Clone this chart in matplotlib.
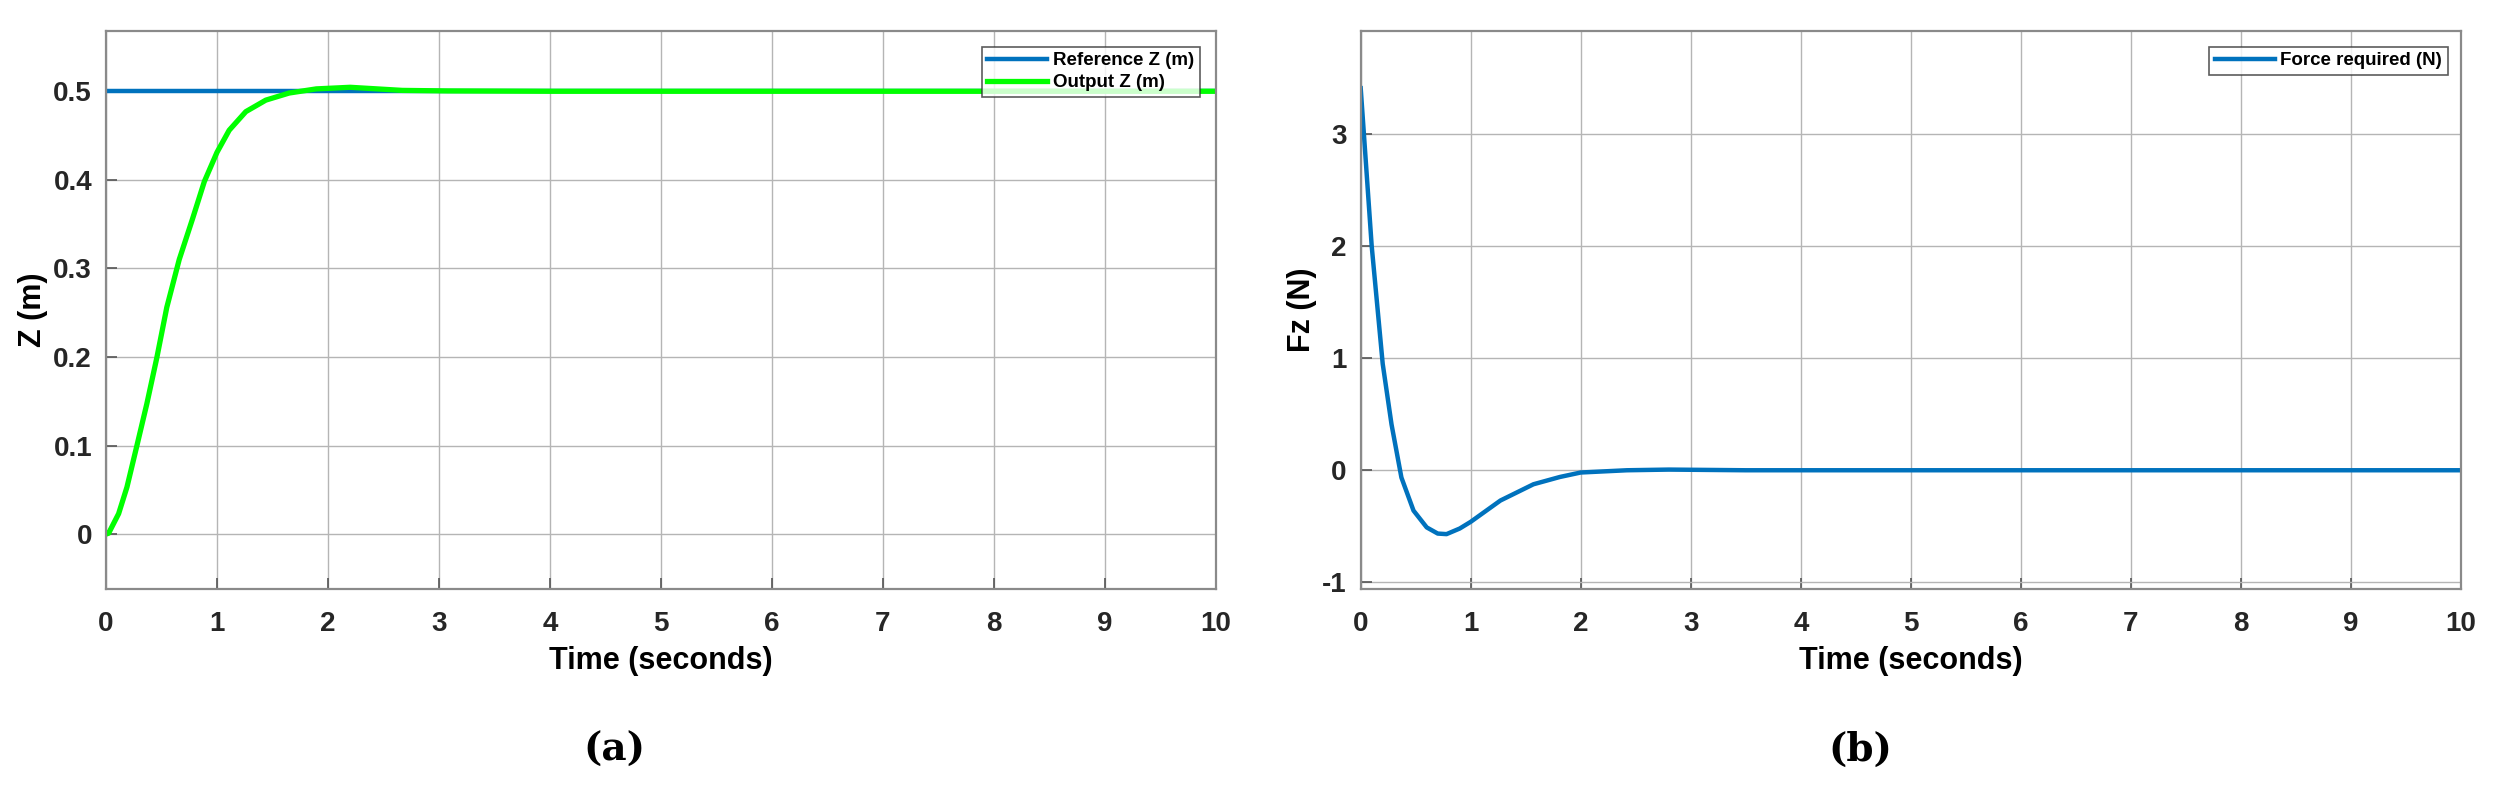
import matplotlib.pyplot as plt

# panel (a): altitude response
t_ref = [0, 10]
z_ref = [0.5, 0.5]
t_out = [0, 0.024, 0.114, 0.189, 0.279, 0.368, 0.458, 0.548, 0.66, 0.78, 0.886, 1.0,
         1.11, 1.26, 1.44, 1.65, 1.895, 2.2, 2.67, 3.08, 4, 10]
z_out = [0, 0.001, 0.023, 0.053, 0.1, 0.147, 0.199, 0.256, 0.31, 0.356, 0.398, 0.431,
         0.456, 0.477, 0.49, 0.498, 0.5027, 0.5045, 0.501, 0.5004, 0.5, 0.5]

# panel (b): force
t_f = [0, 0.1, 0.2, 0.28, 0.37, 0.48, 0.6, 0.7, 0.78, 0.9, 1.0, 1.27, 1.57, 1.81,
       2.0, 2.42, 2.8, 3.5, 10]
f_z = [3.41, 2.0, 0.95, 0.41, -0.065, -0.36, -0.51, -0.565, -0.57, -0.52, -0.46,
       -0.27, -0.125, -0.06, -0.02, 0.0, 0.006, 0.0, 0.0]

xticks = list(range(0, 11))

plt.rcParams['font.family'] = ['Liberation Sans', 'DejaVu Sans']
plt.rcParams['axes.unicode_minus'] = False

fig = plt.figure(figsize=(24.99, 7.9), dpi=100)
ax1 = fig.add_axes([0.0424, 0.2544, 0.4442, 0.7063])
ax2 = fig.add_axes([0.5445, 0.2544, 0.4403, 0.7063])


def style(ax, ylabel):
    ax.set_xlim(0, 10)
    ax.set_xticks(xticks)
    ax.grid(True, color='#b5b5b5', linewidth=1.0)
    ax.set_axisbelow(True)
    for s in ax.spines.values():
        s.set_color('#8a8a8a')
        s.set_linewidth(1.6)
    ax.tick_params(direction='in', length=8, width=1.2, color='#555555',
                   labelsize=20, labelcolor='#262626', pad=10)
    ax.tick_params(axis='x', pad=16)
    for lab in ax.get_xticklabels() + ax.get_yticklabels():
        lab.set_fontweight('bold')
    ax.set_xlabel('Time (seconds)', fontsize=22, fontweight='bold', labelpad=6)
    ax.set_ylabel(ylabel, fontsize=22, fontweight='bold', labelpad=4)


ax1.plot(t_ref, z_ref, color='#0072BD', linewidth=3.2, label='Reference Z (m)')
ax1.plot(t_out, z_out, color='#00FF00', linewidth=3.8, label='Output Z (m)')
ax1.set_ylim(-0.062, 0.568)
ax1.set_yticks([0, 0.1, 0.2, 0.3, 0.4, 0.5])
ax1.set_yticklabels(['0', '0.1', '0.2', '0.3', '0.4', '0.5'])
style(ax1, 'Z (m)')
leg1 = ax1.legend(loc='upper right', bbox_to_anchor=(0.9854, 0.972),
                  prop={'weight': 'bold', 'size': 13.5}, frameon=True, fancybox=False,
                  edgecolor='#333333', handlelength=3.2, borderpad=0.3,
                  labelspacing=0.25, handletextpad=0.3, borderaxespad=0)
leg1.get_frame().set_linewidth(1.2)

ax2.plot(t_f, f_z, color='#0072BD', linewidth=3.2, label='Force required (N)')
ax2.set_ylim(-1.06, 3.92)
ax2.set_yticks([-1, 0, 1, 2, 3])
style(ax2, 'Fz (N)')
leg2 = ax2.legend(loc='upper right', bbox_to_anchor=(0.988, 0.972),
                  prop={'weight': 'bold', 'size': 13.5}, frameon=True, fancybox=False,
                  edgecolor='#333333', handlelength=3.2, borderpad=0.3,
                  handletextpad=0.3, borderaxespad=0)
leg2.get_frame().set_linewidth(1.2)

fig.text(614 / 2499, 1 - 750 / 790, '(a)', ha='center', va='center', fontsize=28,
         family='DejaVu Serif', fontweight='bold')
fig.text(1860 / 2499, 1 - 750 / 790, '(b)', ha='center', va='center', fontsize=28,
         family='DejaVu Serif', fontweight='bold')

fig.savefig('out.png', dpi=100)
